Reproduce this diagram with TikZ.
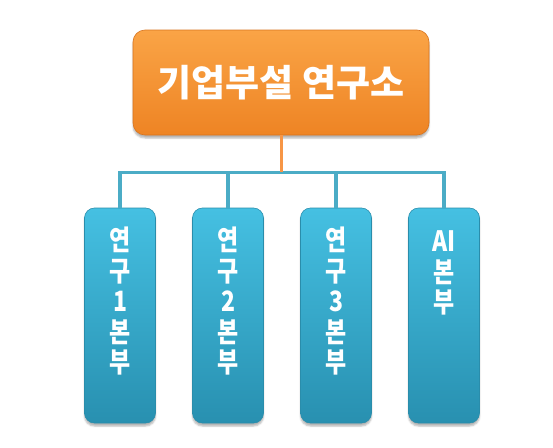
\documentclass[tikz,border=0pt]{standalone}
\usepackage{fontspec}
\newfontfamily\korfont{Noto Sans CJK KR Black}
\newfontfamily\kornarrow{Noto Sans CJK KR Black}[FakeStretch=0.82]
\usetikzlibrary{positioning,shadows,shadows.blur}
\definecolor{headtop}{HTML}{FAA446}
\definecolor{headbot}{HTML}{EE8424}
\definecolor{headedge}{HTML}{D8741E}
\definecolor{unittop}{HTML}{45C0E2}
\definecolor{unitbot}{HTML}{2890B0}
\definecolor{unitedge}{HTML}{2A8DAB}
\definecolor{barteal}{HTML}{4BACC6}
\definecolor{stemorange}{HTML}{F79646}
\tikzset{
  headbox/.style={draw=headedge, line width=0.6pt, rounded corners=12pt,
    top color=headtop, bottom color=headbot,
    minimum width=296pt, minimum height=105pt,
    blur shadow={shadow xshift=0pt, shadow yshift=-3pt, shadow opacity=30},
    text=white, font=\korfont\fontsize{37}{44}\selectfont},
  unitbox/.style={draw=unitedge, line width=0.6pt, rounded corners=10pt,
    top color=unittop, bottom color=unitbot,
    minimum width=71pt, minimum height=215pt,
    blur shadow={shadow xshift=0pt, shadow yshift=-3pt, shadow opacity=30}},
  unittext/.style={text=white, align=center, inner sep=0pt,
    font=\kornarrow\fontsize{28}{30.5}\selectfont},
  bar/.style={draw=barteal, line width=3.5pt},
  stem/.style={draw=stemorange, line width=3pt},
}
\begin{document}
\begin{tikzpicture}
  \useasboundingbox (0,0) rectangle (553pt,-447pt);
  \node[headbox] (Lab) at (281pt,-82.5pt) {기업부설 연구소};
  \node[unitbox, on grid, below left=233pt and 161pt of Lab] (U1) {};
  \node[unitbox, on grid, right=108pt of U1] (U2) {};
  \node[unitbox, on grid, right=108pt of U2] (U3) {};
  \node[unitbox, on grid, right=108pt of U3] (U4) {};
  \node[unittext, below=19pt of U1.north] (T1) {연\\구\\1\\본\\부};
  \node[unittext, below=19pt of U2.north] (T2) {연\\구\\2\\본\\부};
  \node[unittext, below=19pt of U3.north] (T3) {연\\구\\3\\본\\부};
  \node[unittext, below=23pt of U4.north] (T4) {AI\\본\\부};
  \coordinate[below=37pt of Lab.south] (J);
  \draw[bar] (U1.north) |- (J) -| (U4.north);
  \draw[bar] (U2.north) -- (U2.north |- J);
  \draw[bar] (U3.north) -- (U3.north |- J);
  \draw[stem] (Lab.south) -- (J);
\end{tikzpicture}
\end{document}
